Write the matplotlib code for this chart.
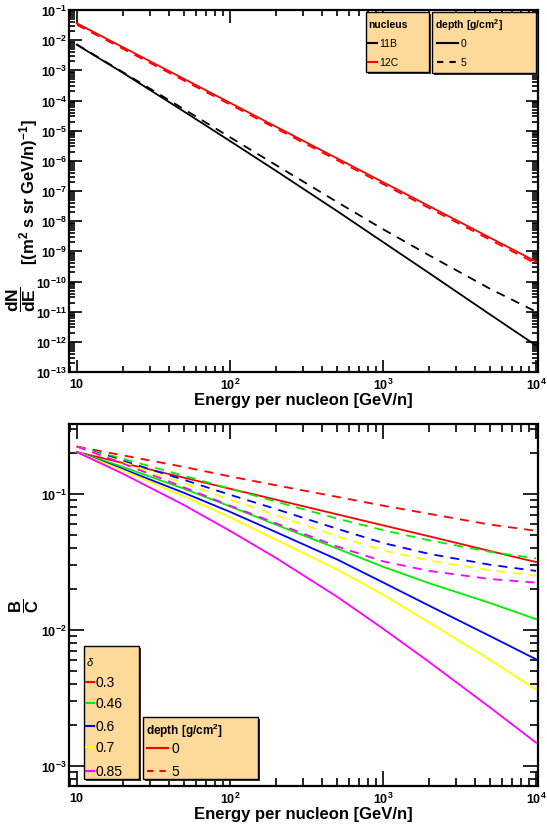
import numpy as np
import matplotlib
matplotlib.use("Agg")
import matplotlib.pyplot as plt
from matplotlib.patches import Rectangle
from matplotlib.lines import Line2D
from matplotlib.ticker import FuncFormatter, LogLocator, NullFormatter

plt.rcParams['font.family'] = ['Liberation Sans', 'DejaVu Sans']
plt.rcParams['mathtext.fontset'] = 'custom'
plt.rcParams['mathtext.rm'] = 'Liberation Sans'
plt.rcParams['mathtext.it'] = 'Liberation Sans:italic'
plt.rcParams['mathtext.bf'] = 'Liberation Sans:bold'

# ---------------- data ----------------
energy = [10, 20, 50, 100, 200, 500, 1000, 2000, 5000, 10000]

# top panel: fluxes
flux_11B_d0 = [7.08e-3, 8.3e-4, 4.37e-5, 4.57e-6, 4.68e-7, 2.19e-8, 2.04e-9, 1.91e-10, 8.1e-12, 7.6e-13]
flux_11B_d5 = [7.24e-3, 8.7e-4, 5.19e-5, 6.1e-6, 7.24e-7, 4.37e-8, 5.43e-9, 7.41e-10, 5.75e-11, 1.0e-11]
flux_12C_d0 = [3.63e-2, 5.85e-3, 5.25e-4, 8.45e-5, 1.36e-5, 1.22e-6, 1.97e-7, 3.17e-8, 2.84e-9, 4.58e-10]
flux_12C_d5 = [3.24e-2, 5.19e-3, 4.62e-4, 7.41e-5, 1.19e-5, 1.06e-6, 1.70e-7, 2.72e-8, 2.43e-9, 3.89e-10]

# bottom panel: B/C ratio
deltas = ['0.3', '0.46', '0.6', '0.7', '0.85']
bc_d0 = {
    '0.3':  [0.204, 0.1694, 0.1321, 0.1096, 0.0910, 0.0710, 0.0589, 0.0489, 0.0381, 0.0316],
    '0.46': [0.204, 0.1585, 0.1096, 0.0813, 0.0596, 0.0398, 0.0292, 0.0221, 0.0158, 0.0120],
    '0.6':  [0.204, 0.1531, 0.1023, 0.0741, 0.0525, 0.0331, 0.0224, 0.0151, 0.00902, 0.00608],
    '0.7':  [0.204, 0.1496, 0.0966, 0.0676, 0.0462, 0.0279, 0.0182, 0.01135, 0.00603, 0.00363],
    '0.85': [0.204, 0.1413, 0.0832, 0.0537, 0.0339, 0.0176, 0.01023, 0.00582, 0.00269, 0.00148],
}
bc_d5 = {
    '0.3':  [0.224, 0.1928, 0.1585, 0.1349, 0.1161, 0.0955, 0.0822, 0.0716, 0.0596, 0.0537],
    '0.46': [0.224, 0.182, 0.1365, 0.1096, 0.0881, 0.0661, 0.0543, 0.0457, 0.0376, 0.0336],
    '0.6':  [0.224, 0.176, 0.1274, 0.0989, 0.0776, 0.0556, 0.0437, 0.0363, 0.0302, 0.0272],
    '0.7':  [0.224, 0.1718, 0.1202, 0.0912, 0.070, 0.049, 0.0385, 0.0324, 0.0275, 0.0251],
    '0.85': [0.224, 0.1679, 0.1122, 0.0822, 0.061, 0.0412, 0.032, 0.0272, 0.0237, 0.0223],
}
delta_colors = {'0.3': '#ff0000', '0.46': '#00ee00', '0.6': '#0000ff',
                '0.7': '#ffff00', '0.85': '#ff00ff'}

W, H = 547, 829
fig = plt.figure(figsize=(W / 100, H / 100), dpi=100)

def fx(x):
    return x / W

def fy(y):
    return 1 - y / H

XLIM = (8.9, 1.03e4)

def sci_fmt(v, pos):
    e = int(round(np.log10(v)))
    if e == 1:
        return r'$\mathbf{10}$'
    return r'$\mathbf{10^{%d}}$' % e

def style_axes(ax):
    ax.set_xscale('log')
    ax.set_yscale('log')
    for s in ax.spines.values():
        s.set_linewidth(1.6)
    ax.tick_params(which='both', direction='in', top=True, right=True,
                   width=1.2, labelsize=9)
    ax.tick_params(axis='y', which='both', pad=1.5)
    ax.tick_params(which='major', length=9)
    ax.tick_params(which='minor', length=4.5)
    ax.xaxis.set_major_locator(LogLocator(base=10, numticks=20))
    ax.xaxis.set_minor_locator(LogLocator(base=10, subs=np.arange(2, 10), numticks=20))
    ax.yaxis.set_major_locator(LogLocator(base=10, numticks=30))
    ax.yaxis.set_minor_locator(LogLocator(base=10, subs=np.arange(2, 10), numticks=30))
    ax.xaxis.set_major_formatter(FuncFormatter(sci_fmt))
    ax.yaxis.set_major_formatter(FuncFormatter(sci_fmt))
    ax.xaxis.set_minor_formatter(NullFormatter())
    ax.yaxis.set_minor_formatter(NullFormatter())
    ax.set_xlim(*XLIM)
    ax.set_xlabel('Energy per nucleon [GeV/n]', fontsize=12, fontweight='bold',
                  labelpad=0)

LEG_BG = '#fdd99a'

def legend_box(x0, y0, x1, y1):
    fig.patches.append(Rectangle((fx(x0) + 2 / W, fy(y1) - 2 / H), fx(x1) - fx(x0),
                                 fy(y0) - fy(y1), transform=fig.transFigure,
                                 facecolor='#333333', edgecolor='none', zorder=9))
    fig.patches.append(Rectangle((fx(x0), fy(y1)), fx(x1) - fx(x0), fy(y0) - fy(y1),
                                 transform=fig.transFigure, facecolor=LEG_BG,
                                 edgecolor='black', linewidth=1.0, zorder=10))

def legend_line(x0, x1, y, color, ls='-', lw=1.5):
    fig.lines.append(Line2D([fx(x0), fx(x1)], [fy(y), fy(y)], transform=fig.transFigure,
                            color=color, linestyle=ls, linewidth=lw, zorder=11))

def legend_text(x, y, s, size=8, weight='normal'):
    fig.text(fx(x), fy(y), s, fontsize=size, fontweight=weight, ha='left',
             va='center', zorder=12)

# ---------------- top panel ----------------
ax1 = fig.add_axes([fx(69), fy(373), fx(538) - fx(69), fy(11) - fy(373)])
style_axes(ax1)
ax1.plot(energy, flux_11B_d0, color='black', lw=1.3)
ax1.plot(energy, flux_11B_d5, color='black', lw=1.3, ls=(0, (5, 4)))
ax1.plot(energy, flux_12C_d0, color='#ff0000', lw=1.3)
ax1.plot(energy, flux_12C_d5, color='#ff0000', lw=1.3, ls=(0, (5, 4)))
ax1.set_ylim(1e-13, 1e-1)

# y-axis title: fraction + unit text
fig.text(fx(29), fy(192), r'[(m$^{\mathbf{2}}$ s sr GeV/n)$^{\mathbf{-1}}$]',
         rotation=90, ha='center', va='center', fontsize=12, fontweight='bold')
fig.text(fx(21), fy(299), r'$\mathbf{\dfrac{dN}{dE}}$',
         rotation=90, ha='center', va='center', fontsize=12.5)

legend_box(366, 13, 429, 73)
legend_text(368, 25, 'nucleus', size=7.5, weight='bold')
legend_line(368, 377, 44, 'black')
legend_text(379, 44, '11B', size=7.5)
legend_line(368, 377, 63, '#ff0000')
legend_text(379, 63, '12C', size=7.5)

legend_box(432, 13, 536, 74)
legend_text(435, 25, r'depth [g/cm$^{\mathbf{2}}$]', size=7.5, weight='bold')
legend_line(437, 458, 44, 'black')
legend_text(461, 44, '0', size=7.5)
legend_line(437, 458, 63, 'black', ls=(0, (3, 3)))
legend_text(461, 63, '5', size=7.5)

# ---------------- bottom panel ----------------
ax2 = fig.add_axes([fx(69), fy(787), fx(538) - fx(69), fy(425) - fy(787)])
style_axes(ax2)
for d in deltas:
    ax2.plot(energy, bc_d0[d], color=delta_colors[d], lw=1.3)
    ax2.plot(energy, bc_d5[d], color=delta_colors[d], lw=1.3, ls=(0, (5, 4)))
ax2.set_ylim(7.1e-4, 0.328)
ax2.tick_params(which='major', length=11)
ax2.tick_params(which='minor', length=6)
fig.text(fx(24), fy(606), r'$\mathbf{\dfrac{B}{C}}$',
         rotation=90, ha='center', va='center', fontsize=12)

legend_box(84, 647, 139, 780)
legend_text(86, 662, r'$\delta$', size=8)
for d, yy in zip(deltas, [683, 704, 727, 748, 772]):
    legend_line(86, 94, yy, delta_colors[d])
    legend_text(95, yy, d, size=10)

legend_box(143, 718, 258, 780)
legend_text(146, 731, r'depth [g/cm$^{\mathbf{2}}$]', size=8.5, weight='bold')
legend_line(147, 168, 749, '#ff0000')
legend_text(171, 749, '0', size=10)
legend_line(147, 168, 772, '#ff0000', ls=(0, (3, 3)))
legend_text(171, 772, '5', size=10)

fig.savefig('out.png', dpi=100)
